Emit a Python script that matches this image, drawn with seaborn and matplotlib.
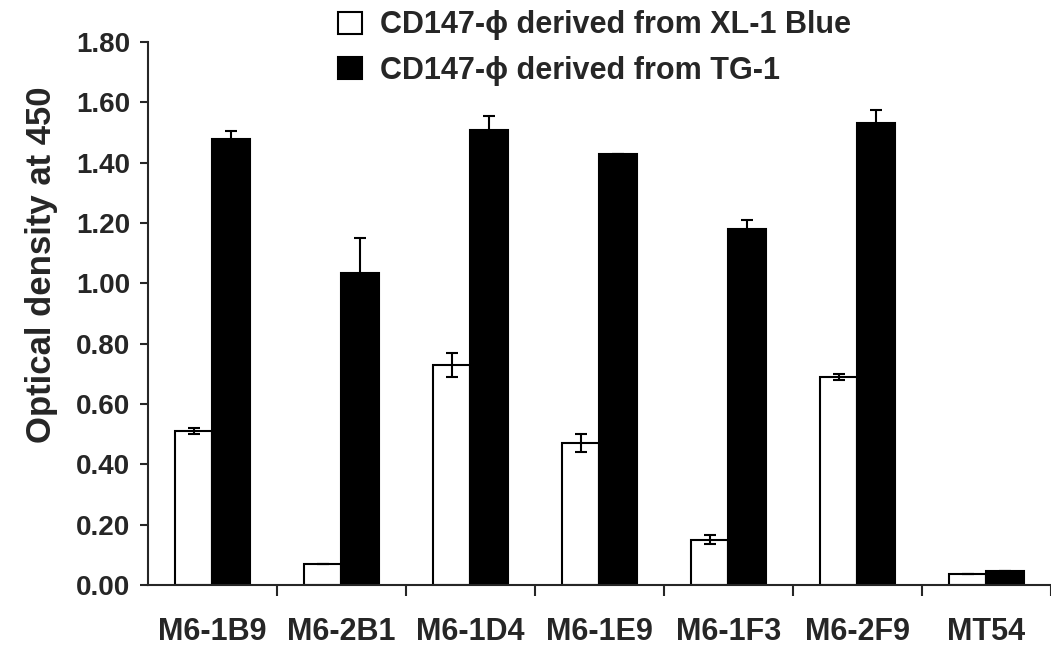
import numpy as np
import pandas as pd
import seaborn as sns
import matplotlib.pyplot as plt

# ------------------------------------------------------
# Data
# ------------------------------------------------------
categories = ["M6-1B9", "M6-2B1", "M6-1D4", "M6-1E9", "M6-1F3", "M6-2F9", "MT54"]
series_names = ["CD147-\u03d5 derived from XL-1 Blue", "CD147-\u03d5 derived from TG-1"]
xl1_blue = [0.51, 0.07, 0.73, 0.47, 0.15, 0.69, 0.035]
xl1_blue_err = [0.01, 0.0, 0.04, 0.03, 0.015, 0.01, 0.0]
tg1 = [1.48, 1.035, 1.51, 1.43, 1.18, 1.53, 0.045]
tg1_err = [0.025, 0.115, 0.045, 0.0, 0.03, 0.045, 0.0]
y_ticks = [0.0, 0.2, 0.4, 0.6, 0.8, 1.0, 1.2, 1.4, 1.6, 1.8]

df = pd.DataFrame({
    "clone": categories * 2,
    "source": [series_names[0]] * len(categories) + [series_names[1]] * len(categories),
    "od": xl1_blue + tg1,
})
errors = [xl1_blue_err, tg1_err]

# ------------------------------------------------------
# Style
# ------------------------------------------------------
sns.set_style("ticks")
plt.rcParams['font.family'] = ['Liberation Sans', 'DejaVu Sans']
plt.rcParams['font.weight'] = 'bold'

fig = plt.figure(figsize=(10.51, 6.51), dpi=100)
ax = fig.add_axes([0.1408, 0.1014, 0.8592, 0.834])

sns.barplot(data=df, x="clone", y="od", hue="source",
            palette=["white", "black"], edgecolor="black", linewidth=1.5,
            width=0.58, saturation=1, ax=ax, zorder=2)

# error bars on top of each bar
for cont, err in zip(ax.containers, errors):
    xs = [b.get_x() + b.get_width() / 2 for b in cont]
    ys = [b.get_height() for b in cont]
    ax.errorbar(xs, ys, yerr=err, fmt="none", ecolor="black",
                elinewidth=1.5, capsize=4, capthick=1.5, zorder=3)

# ------------------------------------------------------
# Axes
# ------------------------------------------------------
ax.set_ylim(0, 1.8)
ax.set_xlim(-0.5, -0.5 + 903 / 130)
ax.set_yticks(y_ticks)
ax.set_yticklabels([f"{v:.2f}" for v in y_ticks], fontsize=20, fontweight='bold')
ax.tick_params(axis='y', direction='out', length=6, width=1.5, pad=7)

# boundary ticks as major (no labels), names as minor ticks
ax.set_xticks(np.arange(len(categories)) + 0.5)
ax.set_xticklabels([])
ax.set_xticks(np.arange(len(categories)), minor=True)
ax.set_xticklabels(categories, minor=True, fontsize=22, fontweight='bold')
ax.tick_params(axis='x', which='major', direction='out', length=8, width=1.5)
ax.tick_params(axis='x', which='minor', length=0, pad=23)

ax.set_xlabel("")
ax.set_ylabel("Optical density at 450", fontsize=25, fontweight='bold')
ax.yaxis.set_label_coords(-0.10, 0.59)

sns.despine(ax=ax)
ax.spines['left'].set_linewidth(1.5)
ax.spines['bottom'].set_linewidth(1.5)

handles, labels = ax.get_legend_handles_labels()
ax.legend(handles, labels, loc='upper left', bbox_to_anchor=(0.3216, 0.984),
          bbox_transform=fig.transFigure, frameon=False, borderpad=0,
          borderaxespad=0, handlelength=0.78, handleheight=0.75,
          handletextpad=0.6, labelspacing=0.5,
          prop={'family': ['Liberation Sans', 'DejaVu Sans'], 'weight': 'bold', 'size': 22})

fig.savefig("out.png", dpi=100)
